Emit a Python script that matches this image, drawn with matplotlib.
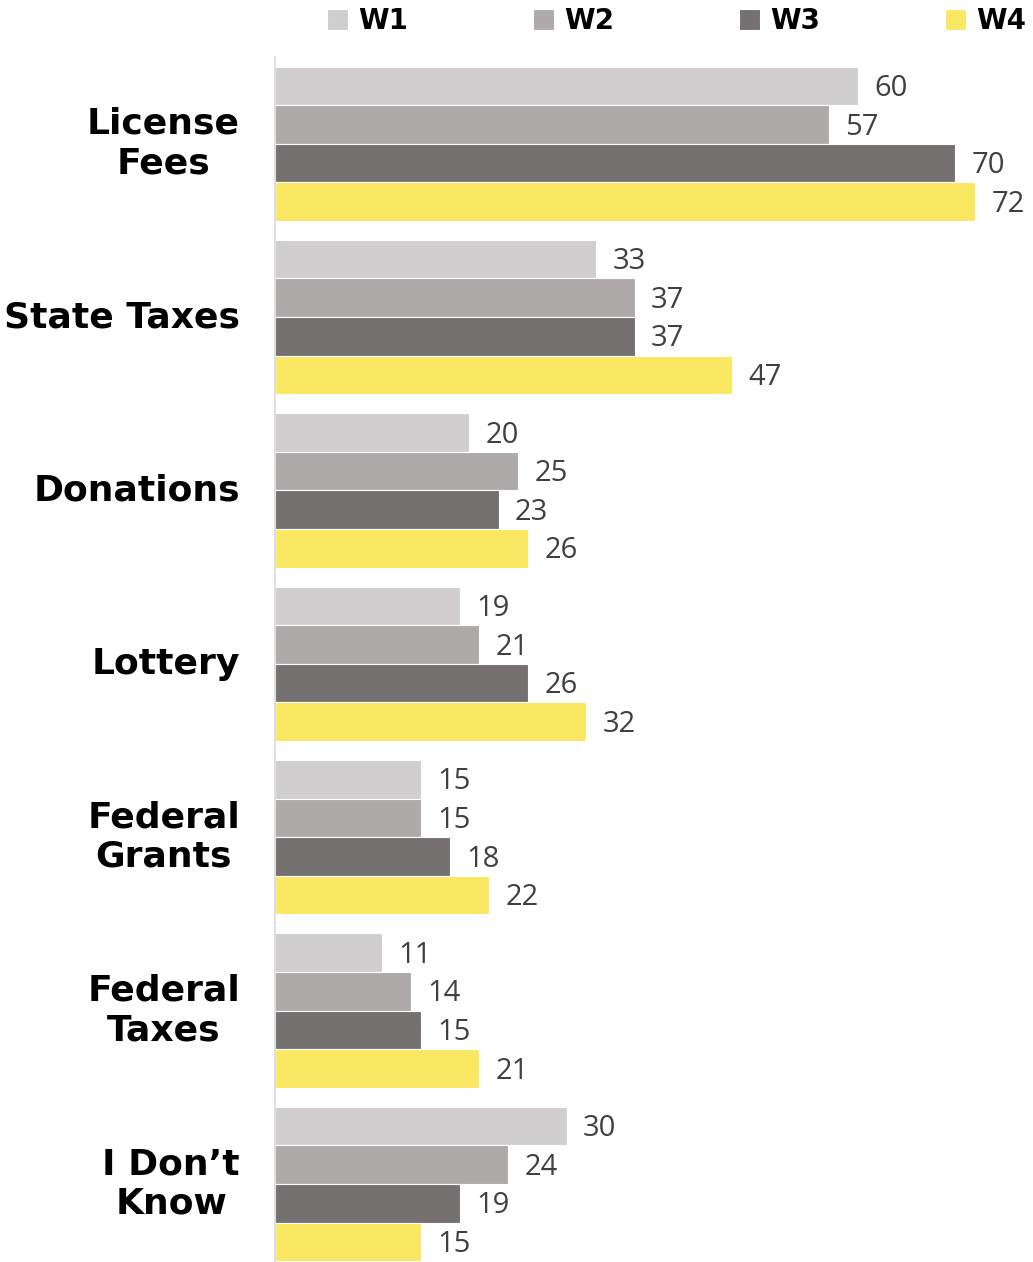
import numpy as np
import matplotlib.pyplot as plt

# Категорії та значення по хвилях
categories = ['License\nFees', 'State Taxes', 'Donations', 'Lottery',
              'Federal\nGrants', 'Federal\nTaxes', 'I Don\u2019t\nKnow']
waves = ['W1', 'W2', 'W3', 'W4']
w1 = [60, 33, 20, 19, 15, 11, 30]
w2 = [57, 37, 25, 21, 15, 14, 24]
w3 = [70, 37, 23, 26, 18, 15, 19]
w4 = [72, 47, 26, 32, 22, 21, 15]
colors = ['#D0CECE', '#AEAAAA', '#767171', '#FAE863']

fig = plt.figure(figsize=(10.33, 12.62), dpi=100)
ax = fig.add_axes([275 / 1033, 0, 1 - 275 / 1033, (1262 - 57) / 1262])

bar_h = 0.2225
y = np.arange(len(categories))
for k, (vals, col, name) in enumerate(zip([w1, w2, w3, w4], colors, waves)):
    pos = y - 1.5 * bar_h + k * bar_h
    ax.barh(pos, vals, height=bar_h, color=col, edgecolor='white',
            linewidth=0.8, label=name)
    for p, v in zip(pos, vals):
        ax.text(v + 1.7, p + 0.015, str(v), va='center', ha='left',
                fontsize=21, color='#404040', family='Open Sans')

ax.set_xlim(0, 78)
ax.set_ylim(6.45, -0.5)
ax.set_xticks([])
ax.set_yticks([])
for s in ['top', 'right', 'bottom']:
    ax.spines[s].set_visible(False)
ax.spines['left'].set_color('#D9D9D9')
ax.spines['left'].set_linewidth(1.2)

for i, cat in enumerate(categories):
    ax.text(-3.6, i, cat, ha='right', va='center', multialignment='center',
            fontsize=26, fontweight='heavy', color='black',
            transform=ax.transData, linespacing=1.2)

leg = fig.legend(loc='center left', bbox_to_anchor=(327 / 1033, 1 - 21 / 1262),
                 ncol=4, frameon=False, handlelength=0.755, handleheight=0.755,
                 handletextpad=0.36, columnspacing=4.5, borderaxespad=0,
                 borderpad=0, prop={'weight': 'bold', 'size': 20})

fig.savefig('out.png', dpi=100)
